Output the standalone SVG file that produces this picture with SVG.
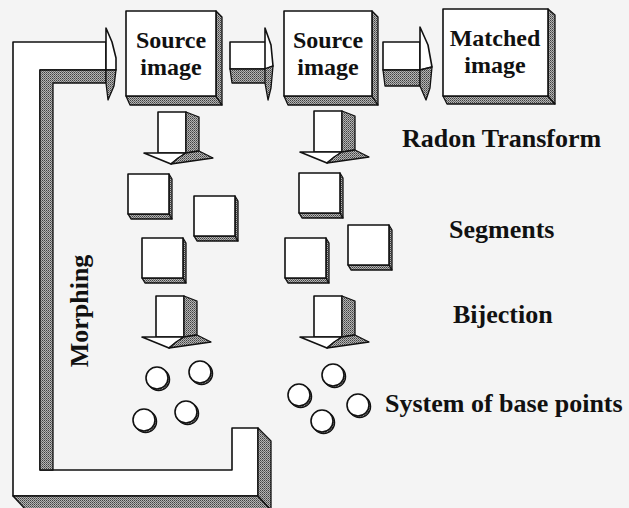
<svg xmlns="http://www.w3.org/2000/svg" width="629" height="508" viewBox="0 0 629 508">
<style>
.face{fill:#fff;stroke:#111;stroke-width:1.6;stroke-linejoin:round}
.shade{fill:url(#ht);stroke:#111;stroke-width:1.3;stroke-linejoin:round}
.lbl{font-family:"Liberation Serif","Times New Roman",serif;font-weight:bold;font-size:26px;fill:#111}
.box{font-size:24px}
.mid{text-anchor:middle}
</style>
<defs>
<pattern id="ht" width="2" height="2" patternUnits="userSpaceOnUse">
<rect width="2" height="2" fill="#b4b4b4"/>
<rect width="1" height="1" fill="#404040"/>
<rect x="1" y="1" width="1" height="1" fill="#6a6a6a"/>
</pattern>
<g id="downArrow">
<rect class="face" x="0" y="0" width="28" height="41"/>
<path class="shade" d="M28,0 L41,5 V39 L28,41 Z"/>
<path class="face" d="M-14,41 H28 L13,52 Z"/>
<path class="shade" d="M28,41 L41,39 L55,46 L13,52 L20,46 Z"/>
</g>
<g id="seg">
<path class="shade" d="M0,40 H41 L44,45 H3 Z"/>
<path class="shade" d="M41,0 L44,5 V45 L41,40 Z"/>
<rect class="face" x="0" y="0" width="41" height="40"/>
</g>
<g id="pt">
<circle cx="1.6" cy="1.6" r="11" class="shade"/>
<circle cx="0" cy="0" r="11" fill="#fff" stroke="#111" stroke-width="1.6"/>
</g>
</defs>
<rect width="629" height="508" fill="#f4f4f4"/>

<g id="connectors">
<g id="morphing-arrow">
<path class="face" d="M106,42 H13 V496 H258 V428 H232 V470 H40 V70 H106 Z"/>
<path class="shade" d="M40,70 H106 V83 H53 V470 H40 Z"/>
<path class="shade" d="M13,496 H258 L271,510 H26 Z"/>
<path class="shade" d="M258,428 L271,441 V510 L258,496 Z"/>
<path class="face" d="M106,28 L112,42 L116,58 L116,70 H106 Z"/>
<path class="shade" d="M106,70 H116 L114,86 L108,100 L106,83 Z"/>
</g>
<g id="arrow-s1-s2">
<rect class="face" x="230" y="42" width="36" height="27"/>
<path class="shade" d="M230,69 H266 V83 H232 Z"/>
<path class="face" d="M265,28 L271,45 L273,66 L265,69 Z"/>
<path class="shade" d="M265,69 L273,66 L271,88 L268,100 L265,83 Z"/>
</g>
<g id="arrow-s2-m">
<rect class="face" x="383" y="42" width="37" height="28"/>
<path class="shade" d="M383,70 H420 V86 H385 Z"/>
<path class="face" d="M420,27 L428,45 L432,67 L420,70 Z"/>
<path class="shade" d="M420,70 L432,67 L430,88 L426,100 L420,86 Z"/>
</g>
<use href="#downArrow" x="158" y="112"/>
<use href="#downArrow" x="314" y="111"/>
<use href="#downArrow" x="156" y="296"/>
<use href="#downArrow" x="314" y="296"/>
</g>

<g id="source-image-1">
<path class="shade" d="M126,96 H216 L222,105 H130 Z"/>
<path class="shade" d="M216,11 L222,17 V105 L216,96 Z"/>
<rect class="face" x="126" y="11" width="90" height="85"/>
<text class="lbl box mid" x="171" y="48">Source</text>
<text class="lbl box mid" x="171" y="75">image</text>
</g>
<g id="source-image-2">
<path class="shade" d="M284,96 H372 L378,105 H288 Z"/>
<path class="shade" d="M372,11 L378,17 V105 L372,96 Z"/>
<rect class="face" x="284" y="11" width="88" height="85"/>
<text class="lbl box mid" x="328" y="48">Source</text>
<text class="lbl box mid" x="328" y="75">image</text>
</g>
<g id="matched-image">
<path class="shade" d="M443,96 H548 L555,104 H447 Z"/>
<path class="shade" d="M548,9 L555,15 V104 L548,96 Z"/>
<rect class="face" x="443" y="9" width="105" height="87"/>
<text class="lbl box mid" x="495" y="46">Matched</text>
<text class="lbl box mid" x="495" y="73">image</text>
</g>

<g id="segments-left">
<use href="#seg" x="128" y="174"/>
<use href="#seg" x="194" y="196"/>
<use href="#seg" x="142" y="238"/>
</g>
<g id="segments-right">
<use href="#seg" x="299" y="173"/>
<use href="#seg" x="285" y="238"/>
<use href="#seg" x="348" y="225"/>
</g>

<g id="base-points-left">
<use href="#pt" x="157" y="378"/>
<use href="#pt" x="200" y="372"/>
<use href="#pt" x="186" y="412"/>
<use href="#pt" x="144" y="420"/>
</g>
<g id="base-points-right">
<use href="#pt" x="333" y="375"/>
<use href="#pt" x="299" y="395"/>
<use href="#pt" x="358" y="405"/>
<use href="#pt" x="322" y="421"/>
</g>

<g id="labels">
<text class="lbl" x="402" y="147">Radon Transform</text>
<text class="lbl" x="449" y="238">Segments</text>
<text class="lbl" x="453" y="323">Bijection</text>
<text class="lbl" x="385" y="412">System of base points</text>
<text class="lbl mid" x="0" y="0" transform="translate(88 311) rotate(-90)">Morphing</text>
</g>
</svg>
